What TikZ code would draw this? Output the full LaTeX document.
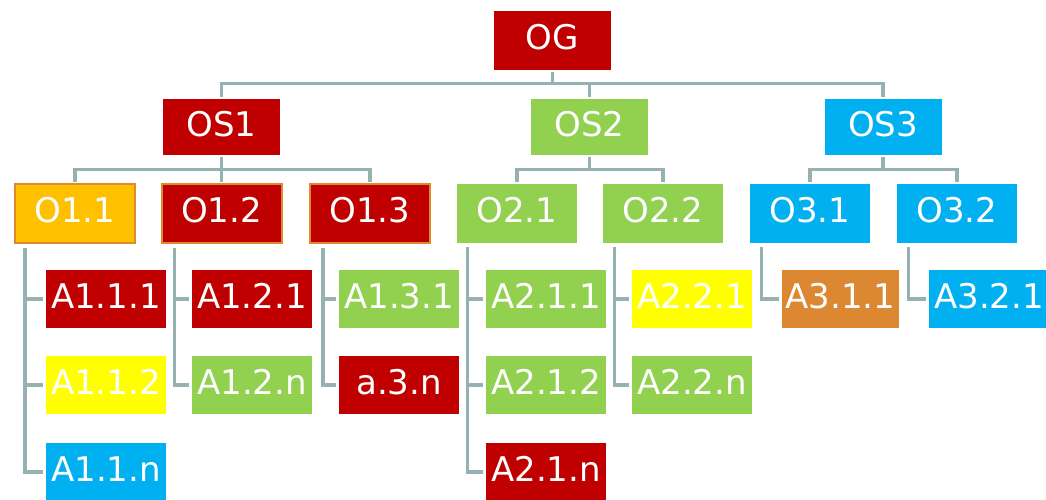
\documentclass[tikz,border=0pt]{standalone}
\usepackage{fontspec}
\setmainfont{DejaVu Sans}
\usetikzlibrary{calc}
\definecolor{cred}{HTML}{C00000}
\definecolor{cgreen}{HTML}{92D050}
\definecolor{cblue}{HTML}{00B0F0}
\definecolor{cyellow}{HTML}{FFFF00}
\definecolor{cgold}{HTML}{FFC000}
\definecolor{corange}{HTML}{DC8832}
\definecolor{cborder}{HTML}{E08A30}
\definecolor{cline}{HTML}{95B1B1}
\tikzset{
  box/.style={rectangle, inner sep=0pt, text=white,
    font=\fontsize{34}{36}\selectfont, text height=24.8pt, text depth=6pt,
    minimum width=120pt, minimum height=58pt},
  fred/.style={box, fill=cred},
  fgreen/.style={box, fill=cgreen},
  fblue/.style={box, fill=cblue},
  fyellow/.style={box, fill=cyellow},
  forange/.style={box, fill=corange},
  bordered/.style={draw=cborder, line width=2pt, minimum width=120pt, minimum height=59pt},
  topbox/.style={minimum width=117pt, minimum height=56pt},
  conn/.style={draw=cline, line width=3.2pt}
}
\begin{document}
\begin{tikzpicture}[x=1pt,y=-1pt]
\useasboundingbox (0,0) rectangle (1046,499);
% level 0
\node[fred, minimum width=117pt, minimum height=59pt] (OG) at (552.5,40.5) {OG};
% level 1
\node[fred, topbox] (OS1) at (221.5,127) {OS1};
\node[fgreen, topbox] (OS2) at (589.5,127) {OS2};
\node[fblue, topbox] (OS3) at (883,127) {OS3};
% level 2
\node[box, fill=cgold, bordered] (O11) at (75,213.5) {O1.1};
\node[fred, bordered] (O12) at (221.5,213.5) {O1.2};
\node[fred, bordered] (O13) at (370,213.5) {O1.3};
\node[fgreen, minimum height=59pt] (O21) at (517,213.5) {O2.1};
\node[fgreen, minimum height=59pt] (O22) at (663,213.5) {O2.2};
\node[fblue, minimum height=59pt] (O31) at (810,213.5) {O3.1};
\node[fblue, minimum height=59pt] (O32) at (957,213.5) {O3.2};
% level 3
\node[fred] (A111) at (106,299) {A1.1.1};
\node[fyellow] (A112) at (106,385) {A1.1.2};
\node[fblue] (A11n) at (106,472) {A1.1.n};
\node[fred] (A121) at (252,299) {A1.2.1};
\node[fgreen] (A12n) at (252,385) {A1.2.n};
\node[fgreen] (A131) at (399,299) {A1.3.1};
\node[fred] (A13n) at (399,385) {a.3.n};
\node[fgreen] (A211) at (546,299) {A2.1.1};
\node[fgreen] (A212) at (546,385) {A2.1.2};
\node[fred] (A21n) at (546,472) {A2.1.n};
\node[fyellow] (A221) at (692,299) {A2.2.1};
\node[fgreen] (A22n) at (692,385) {A2.2.n};
\node[forange, minimum width=117pt] (A311) at (840.5,299) {A3.1.1};
\node[fblue] (A321) at (989,299) {A3.2.1};
% connectors
\foreach \c in {OS1,OS2,OS3}
  \draw[conn] ($(OG.south)+(0,2)$) -- ($(OG.south)+(0,13)$) -| ($(\c.north)+(0,-2)$);
\foreach \p/\c in {OS1/O11, OS1/O12, OS1/O13, OS2/O21, OS2/O22, OS3/O31, OS3/O32}
  \draw[conn] ($(\p.south)+(0,2)$) -- ($(\p.south)+(0,14)$) -| ($(\c.north)+(0,-1.5)$);
\foreach \o/\d/\a in {O11/11/A111, O11/11/A112, O11/11/A11n,
                      O12/14/A121, O12/14/A12n,
                      O13/14/A131, O13/14/A13n,
                      O21/11/A211, O21/11/A212, O21/11/A21n,
                      O22/12/A221, O22/12/A22n,
                      O31/12/A311, O32/12/A321}
  \draw[conn] ($(\o.south west)+(\d,4)$) |- ($(\a.west)+(-3,0)$);
\end{tikzpicture}
\end{document}
